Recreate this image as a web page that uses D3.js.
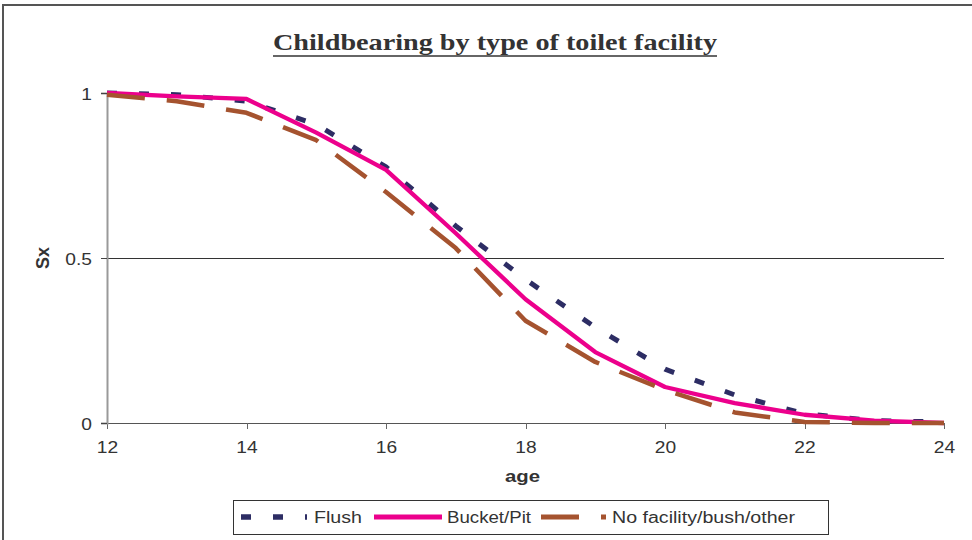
<!DOCTYPE html>
<html>
<head>
<meta charset="utf-8">
<script src="https://cdn.jsdelivr.net/npm/d3@7"></script>
<style>
  html, body { margin: 0; padding: 0; background: #fff; }
  svg { display: block; }
</style>
</head>
<body>
<svg id="chart" width="972" height="540"></svg>
<script>
// Survival in the childless state (Sx) by age, for three toilet-facility groups
const ages = [12, 13, 14, 15, 16, 17, 18, 19, 20, 21, 22, 23, 24];
const flush = [1.0, 0.995, 0.975, 0.905, 0.776, 0.597, 0.435, 0.29, 0.163, 0.085, 0.028, 0.007, 0.003];
const bucketPit = [1.0, 0.99, 0.982, 0.88, 0.767, 0.575, 0.375, 0.215, 0.109, 0.06, 0.025, 0.007, 0.0];
const noFacility = [0.995, 0.975, 0.94, 0.857, 0.70, 0.53, 0.31, 0.185, 0.1, 0.032, 0.003, 0.0, 0.0];

const seriesNames = ["Flush", "Bucket/Pit", "No facility/bush/other"];
const xTicks = [12, 14, 16, 18, 20, 22, 24];
const yTicks = [0, 0.5, 1];

const styles = [
  { color: "#2d2d64", width: 5, dash: "10,22" },
  { color: "#ec008c", width: 4.3, dash: null },
  { color: "#a5532f", width: 4.5, dash: "38,22" }
];
const seriesValues = [flush, bucketPit, noFacility];

const svg = d3.select("#chart");
const SX = 1.2; // horizontal text stretch

// outer frame (top and left edges)
svg.append("path")
  .attr("d", "M3,540 V5 H972")
  .attr("fill", "none")
  .attr("stroke", "#555")
  .attr("stroke-width", 2);

const x = d3.scaleLinear().domain([12, 24]).range([107, 944]);
const y = d3.scaleLinear().domain([0, 1]).range([423, 93]);

// title
svg.append("text")
  .attr("x", 273).attr("y", 50)
  .attr("textLength", 444).attr("lengthAdjust", "spacingAndGlyphs")
  .attr("font-family", "Liberation Serif, serif")
  .attr("font-weight", "bold")
  .attr("font-size", 24)
  .attr("fill", "#333")
  .text("Childbearing by type of toilet facility");
svg.append("line")
  .attr("x1", 273).attr("x2", 717).attr("y1", 56).attr("y2", 56)
  .attr("stroke", "#333").attr("stroke-width", 1.6);

// gridline at 0.5
svg.append("line")
  .attr("x1", x(12)).attr("x2", x(24))
  .attr("y1", y(0.5) + 0.5).attr("y2", y(0.5) + 0.5)
  .attr("stroke", "#333").attr("stroke-width", 1)
  .attr("shape-rendering", "crispEdges");

// x axis
const xAxis = svg.append("g")
  .attr("transform", `translate(0,${y(0)})`)
  .call(d3.axisBottom(x).tickValues(xTicks).tickSize(6).tickPadding(0).tickFormat(d3.format("d")));
xAxis.select(".domain").attr("stroke", "#555").attr("stroke-width", 1).attr("shape-rendering", "crispEdges");
xAxis.selectAll(".tick line").attr("stroke", "#666").attr("shape-rendering", "crispEdges");
xAxis.selectAll(".tick text")
  .attr("y", 30).attr("dy", null)
  .attr("transform", `scale(${SX},1)`)
  .attr("font-family", "Liberation Sans, Arial, sans-serif")
  .attr("font-size", 16).attr("fill", "#333");

// y axis
const yAxis = svg.append("g")
  .attr("transform", `translate(${x(12)},0)`)
  .call(d3.axisLeft(y).tickValues(yTicks).tickSize(6).tickPadding(0).tickFormat(d => d3.format("")(d)));
yAxis.select(".domain").attr("stroke", "#999").attr("stroke-width", 2);
yAxis.selectAll(".tick line").attr("stroke", "#444").attr("shape-rendering", "crispEdges");
yAxis.selectAll(".tick text")
  .attr("x", -15 / SX).attr("dy", null).attr("y", 6)
  .attr("transform", `scale(${SX},1)`)
  .attr("font-family", "Liberation Sans, Arial, sans-serif")
  .attr("font-size", 16).attr("fill", "#333");

// axis titles
svg.append("text")
  .attr("transform", "translate(49,258) rotate(-90)")
  .attr("text-anchor", "middle")
  .attr("font-family", "Liberation Sans, Arial, sans-serif")
  .attr("font-weight", "bold").attr("font-size", 18).attr("fill", "#333")
  .text("Sx");
svg.append("text")
  .attr("x", 505).attr("y", 482)
  .attr("textLength", 35).attr("lengthAdjust", "spacingAndGlyphs")
  .attr("font-family", "Liberation Sans, Arial, sans-serif")
  .attr("font-weight", "bold").attr("font-size", 16).attr("fill", "#333")
  .text("age");

// series lines
const line = d3.line().x(d => x(d[0])).y(d => y(d[1]));
seriesValues.forEach((vals, i) => {
  const st = styles[i];
  svg.append("path")
    .datum(ages.map((a, j) => [a, vals[j]]))
    .attr("d", line)
    .attr("fill", "none")
    .attr("stroke", st.color)
    .attr("stroke-width", st.width)
    .attr("stroke-dasharray", st.dash)
    .attr("stroke-linejoin", "round");
});

// legend
const legend = svg.append("g");
legend.append("rect")
  .attr("x", 233.5).attr("y", 500.5).attr("width", 595).attr("height", 34)
  .attr("fill", "#fff").attr("stroke", "#333").attr("stroke-width", 1);
const legendItems = [
  { x1: 241, x2: 307, tx: 314, tw: 48 },
  { x1: 374, x2: 442, tx: 447, tw: 84 },
  { x1: 541, x2: 606, tx: 612, tw: 183 }
];
legendItems.forEach((it, i) => {
  const st = styles[i];
  legend.append("line")
    .attr("x1", it.x1).attr("x2", it.x2).attr("y1", 517).attr("y2", 517)
    .attr("stroke", st.color).attr("stroke-width", st.width + 0.5)
    .attr("stroke-dasharray", st.dash);
  legend.append("text")
    .attr("x", it.tx).attr("y", 523)
    .attr("textLength", it.tw).attr("lengthAdjust", "spacingAndGlyphs")
    .attr("font-family", "Liberation Sans, Arial, sans-serif")
    .attr("font-size", 16).attr("fill", "#333")
    .text(seriesNames[i]);
});
</script>
</body>
</html>
